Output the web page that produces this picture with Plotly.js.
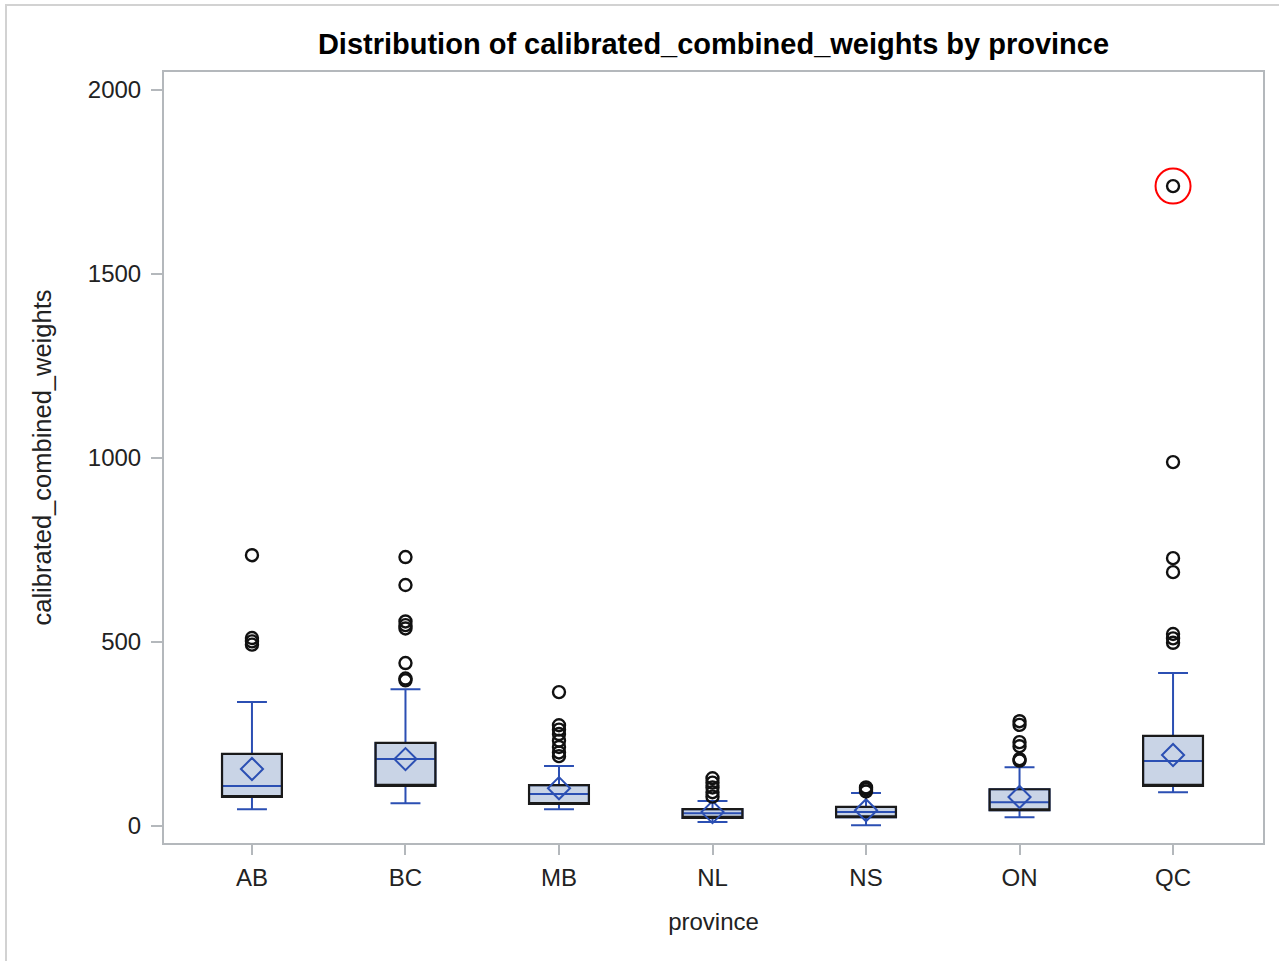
<!DOCTYPE html>
<html>
<head>
<meta charset="utf-8">
<script src="https://cdn.plot.ly/plotly-3.0.1.min.js"></script>
<style>
  html, body { margin: 0; padding: 0; background: #fff; }
  #frame { position: absolute; left: 5px; top: 4px; width: 1274px; height: 957px;
           border-left: 2px solid #d2d2d2; border-top: 2px solid #d2d2d2; box-sizing: border-box; }
  #chart { position: absolute; left: 0; top: 0; width: 1279px; height: 961px; }
</style>
</head>
<body>
<div id="frame"></div>
<div id="chart"></div>
<script>
// ---- data ----
const provinces     = ['AB', 'BC', 'MB', 'NL', 'NS', 'ON', 'QC'];
const lowerWhisker  = [46, 62, 46, 11, 2, 24, 92];
const q1            = [79, 109, 60, 22, 24, 43, 109];
const median        = [109, 182, 87, 35, 38, 65, 177];
const q3            = [196, 226, 111, 46, 52, 100, 245];
const upperWhisker  = [337, 372, 163, 68, 90, 160, 416];
const mean          = [155, 182, 103, 38, 43, 79, 193];

const outliersAB = [736, 511, 502, 493];
const outliersBC = [731, 655, 556, 546, 537, 443, 401, 396];
const outliersMB = [364, 274, 262, 250, 232, 215, 200, 190];
const outliersNL = [130, 118, 105, 92, 80];
const outliersNS = [105, 100, 94];
const outliersON = [285, 275, 228, 217, 182, 178];
const outliersQC = [1739, 989, 728, 690, 522, 510, 498];

const highlightProvince = ['QC'];
const highlightValue    = [1739];

// ---- styles ----
const blue = '#2B4FB3';
const fill = '#C9D4E6';
const axisGray = '#B4B8BC';
const font = 'Liberation Sans, Arial, sans-serif';

const outlierLists = [outliersAB, outliersBC, outliersMB, outliersNL, outliersNS, outliersON, outliersQC];
const outX = [], outY = [];
outlierLists.forEach((list, i) => list.forEach(v => { outX.push(provinces[i]); outY.push(v); }));

const traces = [
  { // blue box: fill, whiskers, caps, median
    type: 'box', x: provinces,
    q1: q1, median: median, q3: q3, lowerfence: lowerWhisker, upperfence: upperWhisker,
    boxpoints: false, width: 0.39, whiskerwidth: 0.5,
    fillcolor: fill, line: { color: blue, width: 2 }, hoverinfo: 'skip'
  },
  { // black outline on top
    type: 'box', x: provinces,
    q1: q1, median: q1, q3: q3, lowerfence: q1, upperfence: q3,
    boxpoints: false, width: 0.39, whiskerwidth: 0,
    fillcolor: 'rgba(0,0,0,0)', line: { color: '#1a1a1a', width: 2.2 }, hoverinfo: 'skip'
  },
  { // mean diamonds
    type: 'scatter', mode: 'markers', x: provinces, y: mean,
    marker: { symbol: 'diamond-open', size: 17, color: blue, line: { color: blue, width: 2 } }
  },
  { // outliers
    type: 'scatter', mode: 'markers', x: outX, y: outY,
    marker: { symbol: 'circle-open', size: 12, color: '#111', line: { color: '#111', width: 2.4 } }
  },
  { // red highlight circle
    type: 'scatter', mode: 'markers', x: highlightProvince, y: highlightValue,
    marker: { symbol: 'circle-open', size: 35, color: '#FF0000', line: { color: '#FF0000', width: 2 } }
  }
];

const layout = {
  width: 1279, height: 961,
  paper_bgcolor: 'rgba(0,0,0,0)', plot_bgcolor: '#fff',
  margin: { l: 164, r: 16, t: 72, b: 118 },
  showlegend: false, boxmode: 'overlay',
  font: { family: font, color: '#222', size: 24 },
  title: {
    text: '<b>Distribution of calibrated_combined_weights by province</b>',
    font: { family: font, size: 29, color: '#000' },
    xref: 'paper', x: 0.5, xanchor: 'center',
    yref: 'container', y: 1 - 44 / 961, yanchor: 'middle'
  },
  xaxis: {
    type: 'category', range: [-0.573, 6.586],
    showline: true, mirror: true, linecolor: axisGray, linewidth: 2,
    ticks: 'outside', ticklen: 10, tickwidth: 2, tickcolor: axisGray,
    ticklabelstandoff: 2,
    showgrid: false, zeroline: false,
    tickfont: { size: 24, color: '#222' },
    title: { text: 'province', font: { size: 24, color: '#222' }, standoff: 23 }
  },
  yaxis: {
    range: [-46, 2049], tickvals: [0, 500, 1000, 1500, 2000],
    showline: true, mirror: true, linecolor: axisGray, linewidth: 2,
    ticks: 'outside', ticklen: 11, tickwidth: 2, tickcolor: axisGray,
    ticklabelstandoff: 5,
    showgrid: false, zeroline: false,
    tickfont: { size: 24, color: '#222' },
    title: { text: 'calibrated_combined_weights', font: { size: 25.5, color: '#222' }, standoff: 29 }
  }
};

Plotly.newPlot('chart', traces, layout, { displayModeBar: false, staticPlot: true });
</script>
</body>
</html>
